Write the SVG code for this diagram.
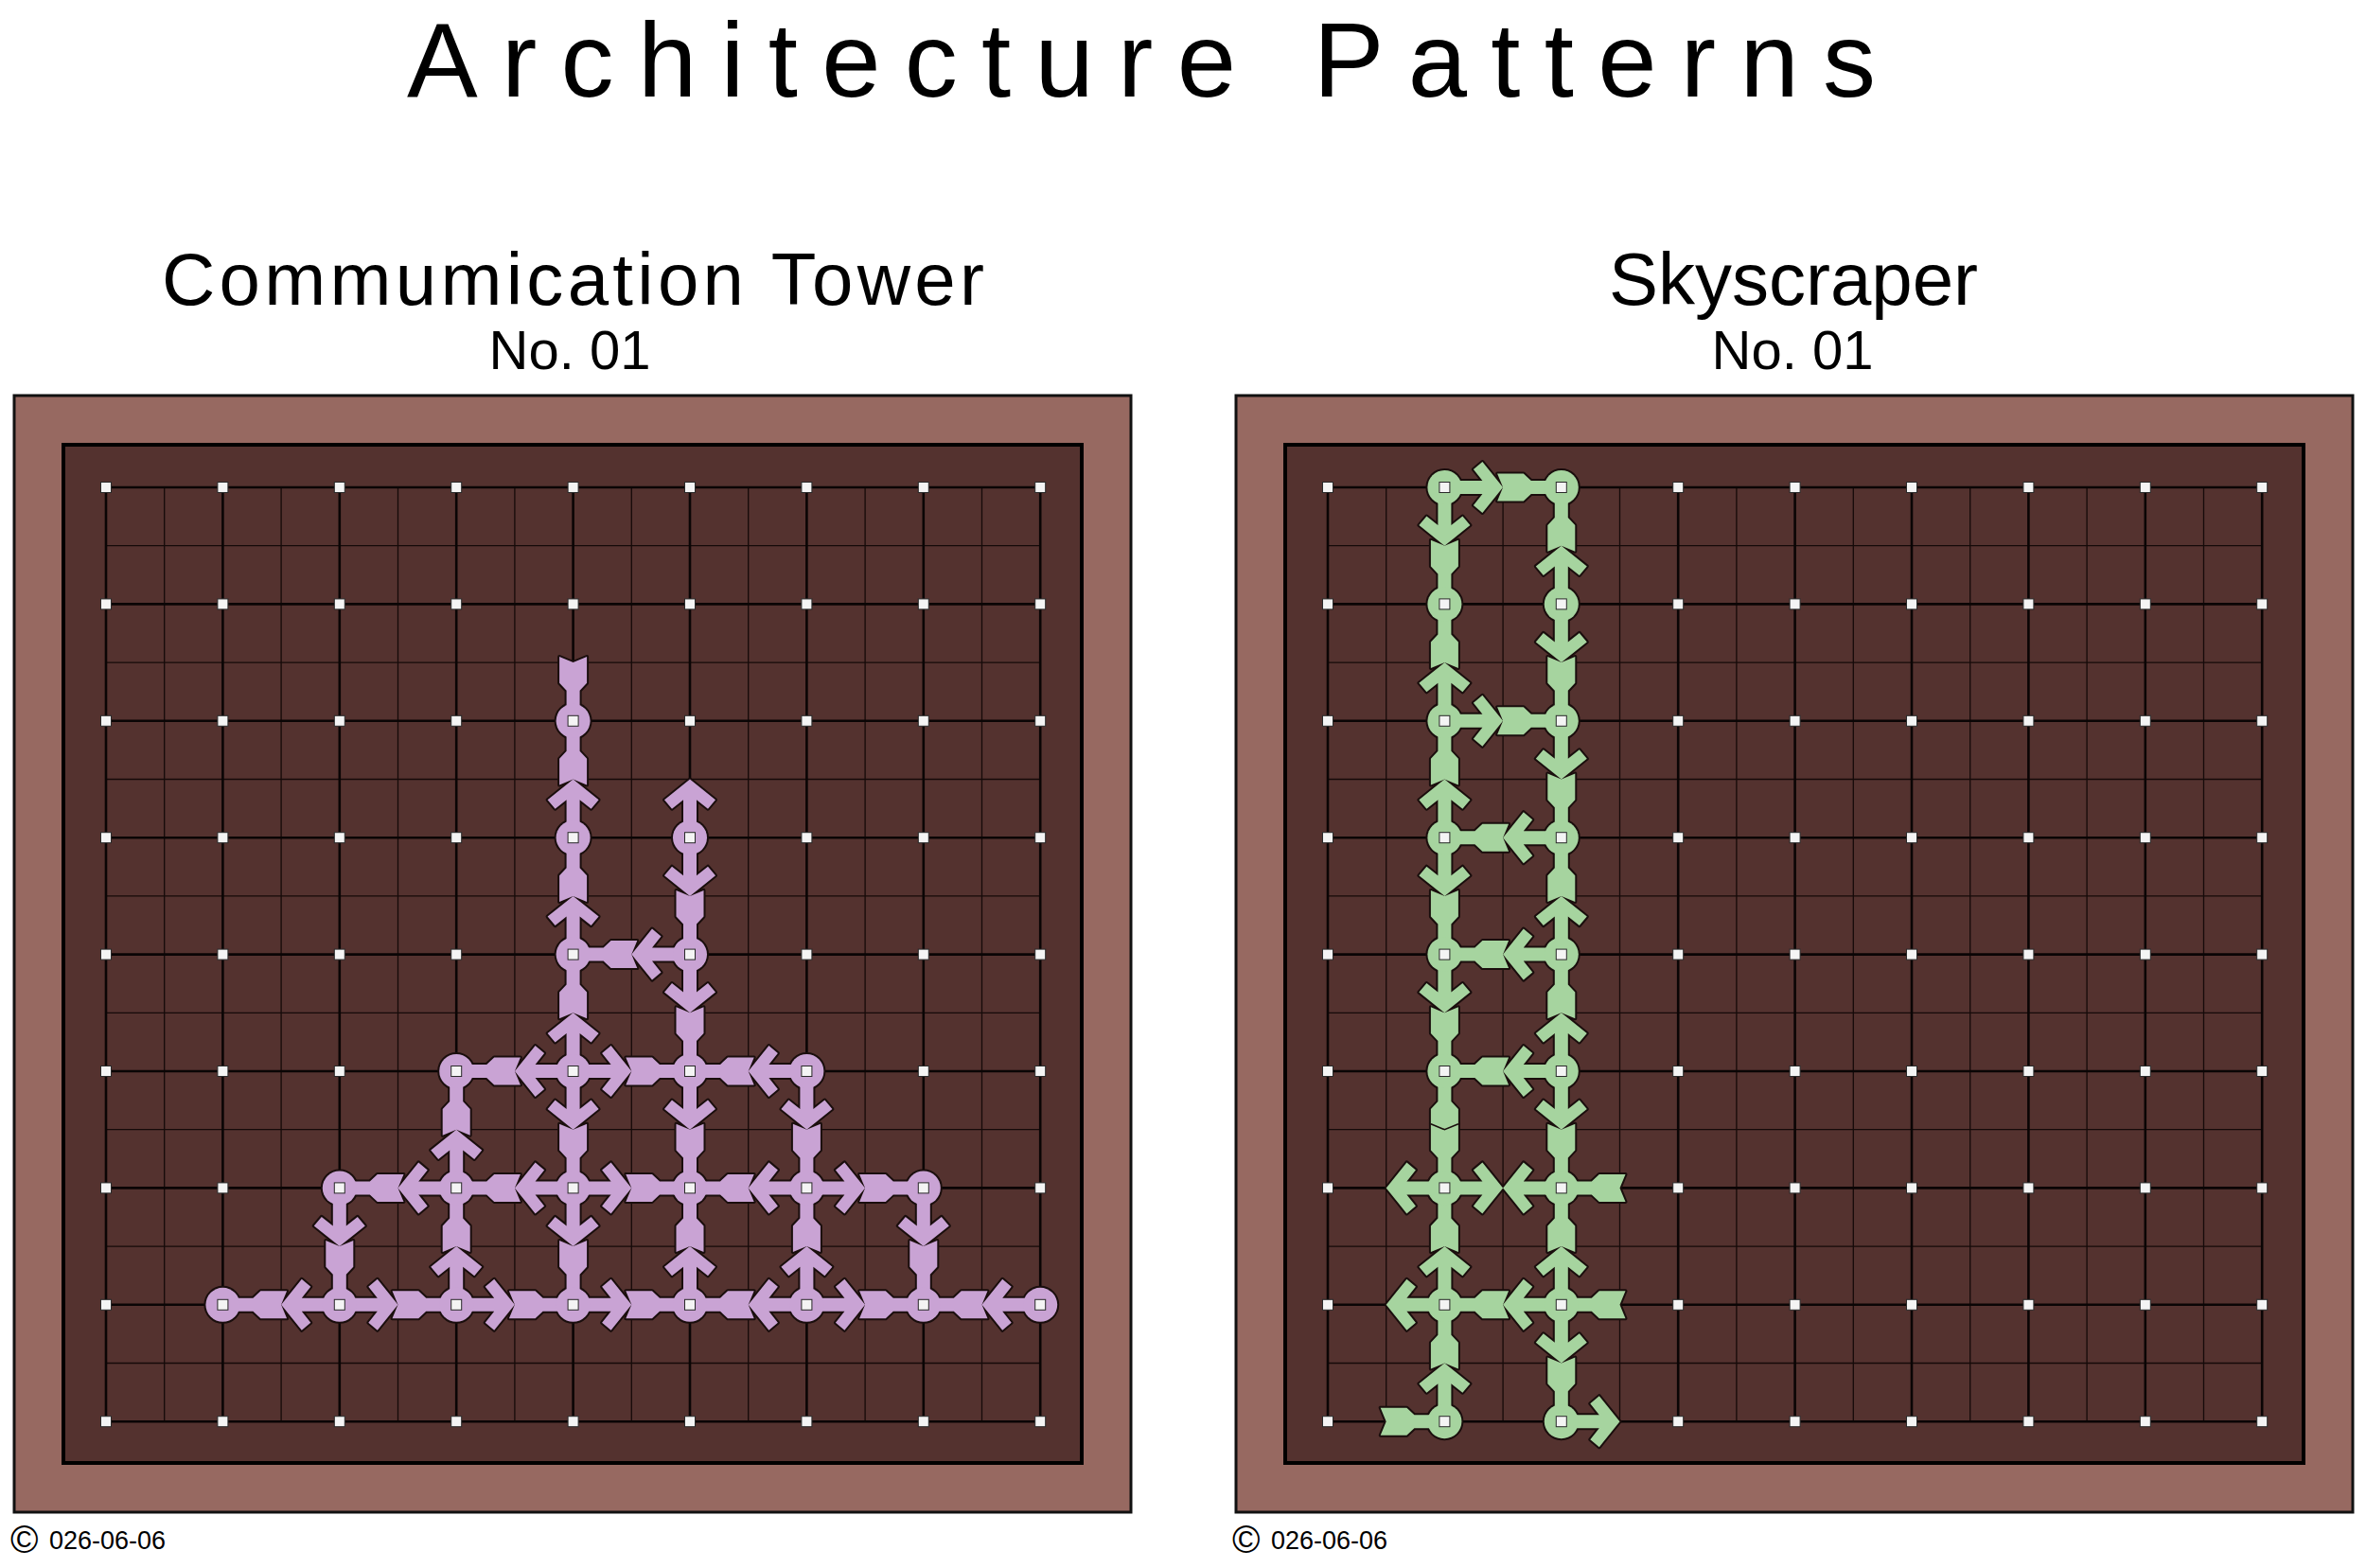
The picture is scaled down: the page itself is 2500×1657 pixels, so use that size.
<svg xmlns="http://www.w3.org/2000/svg" width="2500" height="1657" viewBox="0 0 2500 1657">
<style>
text{font-family:"Liberation Sans",Arial,sans-serif;fill:#000}
.frame{fill:#976961;stroke:#111;stroke-width:3}
.board{fill:#54322f;stroke:#000;stroke-width:4}
.major{stroke:#0a0505;stroke-width:2.6;fill:none}
.minor{stroke:#150a09;stroke-width:1.3;fill:none}
.dot{fill:#f4f4f4;stroke:#2a2a2a;stroke-width:1}
.tw{fill:#c9a3d4}
.sk{fill:#a6d49f}
.ol{stroke:#1a0e0d;stroke-width:4;stroke-linejoin:round}
.jn{fill:none;stroke:#1a0e0d;stroke-width:1.6}
</style>
<defs>
<path id="hd" d="M61.7,0 L40,-27 L30.5,-19 L40,-7 L0,-7 L0,7 L40,7 L30.5,19 L40,27 Z"/>
<path id="skt" d="M0,-7 L32,-7 L40,-14.5 L67.7,-14.5 L61.7,0 L67.7,14.5 L40,14.5 L32,7 L0,7 Z"/>
<path id="plg" d="M0,-7 L32,-7 L40,-14.5 L55.7,-14.5 L61.7,0 L55.7,14.5 L40,14.5 L32,7 L0,7 Z"/>
<g id="gridlines">
<path class="minor" d="M61.7,0V987.2M185.1,0V987.2M308.5,0V987.2M431.9,0V987.2M555.3,0V987.2M678.7,0V987.2M802.1,0V987.2M925.5,0V987.2M0,61.7H987.2M0,185.1H987.2M0,308.5H987.2M0,431.9H987.2M0,555.3H987.2M0,678.7H987.2M0,802.1H987.2M0,925.5H987.2"/>
<path class="major" d="M0,0V987.2M123.4,0V987.2M246.8,0V987.2M370.2,0V987.2M493.6,0V987.2M617,0V987.2M740.4,0V987.2M863.8,0V987.2M987.2,0V987.2M0,0H987.2M0,123.4H987.2M0,246.8H987.2M0,370.2H987.2M0,493.6H987.2M0,617H987.2M0,740.4H987.2M0,863.8H987.2M0,987.2H987.2"/>
</g>
<rect id="dot" class="dot" x="-5.5" y="-5.5" width="11" height="11"/>
<g id="dotrow">
<use href="#dot" x="0"/><use href="#dot" x="123.4"/><use href="#dot" x="246.8"/><use href="#dot" x="370.2"/><use href="#dot" x="493.6"/><use href="#dot" x="617"/><use href="#dot" x="740.4"/><use href="#dot" x="863.8"/><use href="#dot" x="987.2"/>
</g>
<g id="dots">
<use href="#dotrow" y="0"/><use href="#dotrow" y="123.4"/><use href="#dotrow" y="246.8"/><use href="#dotrow" y="370.2"/><use href="#dotrow" y="493.6"/><use href="#dotrow" y="617"/><use href="#dotrow" y="740.4"/><use href="#dotrow" y="863.8"/><use href="#dotrow" y="987.2"/>
</g>
</defs>
<rect width="2500" height="1657" fill="#fff"/>

<text x="430" y="102" font-size="112" textLength="1552" lengthAdjust="spacing">Architecture Patterns</text>

<g id="tower-title">
<text x="171" y="322" font-size="78" textLength="869" lengthAdjust="spacing">Commumication Tower</text>
<text x="602" y="390" font-size="58" text-anchor="middle">No. 01</text>
</g>
<g id="sky-title">
<text x="1895" y="322" font-size="78" text-anchor="middle">Skyscraper</text>
<text x="1894" y="390" font-size="58" text-anchor="middle">No. 01</text>
</g>

<g id="tower-panel" transform="translate(112,515)">
<rect class="frame" x="-97" y="-97" width="1180" height="1180"/>
<rect class="board" x="-45" y="-45" width="1076" height="1076"/>
<use href="#gridlines"/>
<g id="tower-pieces" class="tw">
<g id="tower-outline"><use href="#tower-connectors" class="ol"/><use href="#tower-nodes" class="ol"/></g>
<g id="tower-connectors">
<g id="t-e-43-42"><use href="#hd" transform="translate(493.6,370.2) rotate(-90)"/><use href="#skt" transform="translate(493.6,246.8) rotate(90)"/></g>
<g id="t-e-44-43"><use href="#hd" transform="translate(493.6,493.6) rotate(-90)"/><use href="#skt" transform="translate(493.6,370.2) rotate(90)"/></g>
<g id="t-e-45-44"><use href="#hd" transform="translate(493.6,617) rotate(-90)"/><use href="#skt" transform="translate(493.6,493.6) rotate(90)"/></g>
<g id="t-e-54-44"><use href="#hd" transform="translate(617,493.6) rotate(180)"/><use href="#skt" transform="translate(493.6,493.6)"/></g>
<g id="t-e-53-54"><use href="#hd" transform="translate(617,370.2) rotate(90)"/><use href="#skt" transform="translate(617,493.6) rotate(-90)"/></g>
<g id="t-e-54-55"><use href="#hd" transform="translate(617,493.6) rotate(90)"/><use href="#skt" transform="translate(617,617) rotate(-90)"/></g>
<g id="t-e-45-35"><use href="#hd" transform="translate(493.6,617) rotate(180)"/><use href="#skt" transform="translate(370.2,617)"/></g>
<g id="t-e-36-35"><use href="#hd" transform="translate(370.2,740.4) rotate(-90)"/><use href="#skt" transform="translate(370.2,617) rotate(90)"/></g>
<g id="t-e-45-55"><use href="#hd" transform="translate(493.6,617)"/><use href="#skt" transform="translate(617,617) rotate(180)"/></g>
<g id="t-e-65-55"><use href="#hd" transform="translate(740.4,617) rotate(180)"/><use href="#skt" transform="translate(617,617)"/></g>
<g id="t-e-45-46"><use href="#hd" transform="translate(493.6,617) rotate(90)"/><use href="#skt" transform="translate(493.6,740.4) rotate(-90)"/></g>
<g id="t-e-55-56"><use href="#hd" transform="translate(617,617) rotate(90)"/><use href="#skt" transform="translate(617,740.4) rotate(-90)"/></g>
<g id="t-e-65-66"><use href="#hd" transform="translate(740.4,617) rotate(90)"/><use href="#skt" transform="translate(740.4,740.4) rotate(-90)"/></g>
<g id="t-e-36-26"><use href="#hd" transform="translate(370.2,740.4) rotate(180)"/><use href="#skt" transform="translate(246.8,740.4)"/></g>
<g id="t-e-46-36"><use href="#hd" transform="translate(493.6,740.4) rotate(180)"/><use href="#skt" transform="translate(370.2,740.4)"/></g>
<g id="t-e-46-56"><use href="#hd" transform="translate(493.6,740.4)"/><use href="#skt" transform="translate(617,740.4) rotate(180)"/></g>
<g id="t-e-66-56"><use href="#hd" transform="translate(740.4,740.4) rotate(180)"/><use href="#skt" transform="translate(617,740.4)"/></g>
<g id="t-e-66-76"><use href="#hd" transform="translate(740.4,740.4)"/><use href="#skt" transform="translate(863.8,740.4) rotate(180)"/></g>
<g id="t-e-26-27"><use href="#hd" transform="translate(246.8,740.4) rotate(90)"/><use href="#skt" transform="translate(246.8,863.8) rotate(-90)"/></g>
<g id="t-e-37-36"><use href="#hd" transform="translate(370.2,863.8) rotate(-90)"/><use href="#skt" transform="translate(370.2,740.4) rotate(90)"/></g>
<g id="t-e-46-47"><use href="#hd" transform="translate(493.6,740.4) rotate(90)"/><use href="#skt" transform="translate(493.6,863.8) rotate(-90)"/></g>
<g id="t-e-57-56"><use href="#hd" transform="translate(617,863.8) rotate(-90)"/><use href="#skt" transform="translate(617,740.4) rotate(90)"/></g>
<g id="t-e-67-66"><use href="#hd" transform="translate(740.4,863.8) rotate(-90)"/><use href="#skt" transform="translate(740.4,740.4) rotate(90)"/></g>
<g id="t-e-76-77"><use href="#hd" transform="translate(863.8,740.4) rotate(90)"/><use href="#skt" transform="translate(863.8,863.8) rotate(-90)"/></g>
<g id="t-e-27-17"><use href="#hd" transform="translate(246.8,863.8) rotate(180)"/><use href="#skt" transform="translate(123.4,863.8)"/></g>
<g id="t-e-27-37"><use href="#hd" transform="translate(246.8,863.8)"/><use href="#skt" transform="translate(370.2,863.8) rotate(180)"/></g>
<g id="t-e-37-47"><use href="#hd" transform="translate(370.2,863.8)"/><use href="#skt" transform="translate(493.6,863.8) rotate(180)"/></g>
<g id="t-e-47-57"><use href="#hd" transform="translate(493.6,863.8)"/><use href="#skt" transform="translate(617,863.8) rotate(180)"/></g>
<g id="t-e-67-57"><use href="#hd" transform="translate(740.4,863.8) rotate(180)"/><use href="#skt" transform="translate(617,863.8)"/></g>
<g id="t-e-67-77"><use href="#hd" transform="translate(740.4,863.8)"/><use href="#skt" transform="translate(863.8,863.8) rotate(180)"/></g>
<g id="t-e-87-77"><use href="#hd" transform="translate(987.2,863.8) rotate(180)"/><use href="#skt" transform="translate(863.8,863.8)"/></g>
<g id="t-open-42"><use href="#skt" transform="translate(493.6,246.8) rotate(-90)"/></g>
<g id="t-open-53"><use href="#hd" transform="translate(617,370.2) rotate(-90)"/></g>
</g>
<g id="tower-nodes">
<g id="t-n-4-2"><circle cx="493.6" cy="246.8" r="18"/></g>
<g id="t-n-4-3"><circle cx="493.6" cy="370.2" r="18"/></g>
<g id="t-n-5-3"><circle cx="617" cy="370.2" r="18"/></g>
<g id="t-n-4-4"><circle cx="493.6" cy="493.6" r="18"/></g>
<g id="t-n-5-4"><circle cx="617" cy="493.6" r="18"/></g>
<g id="t-n-3-5"><circle cx="370.2" cy="617" r="18"/></g>
<g id="t-n-4-5"><circle cx="493.6" cy="617" r="18"/></g>
<g id="t-n-5-5"><circle cx="617" cy="617" r="18"/></g>
<g id="t-n-6-5"><circle cx="740.4" cy="617" r="18"/></g>
<g id="t-n-2-6"><circle cx="246.8" cy="740.4" r="18"/></g>
<g id="t-n-3-6"><circle cx="370.2" cy="740.4" r="18"/></g>
<g id="t-n-4-6"><circle cx="493.6" cy="740.4" r="18"/></g>
<g id="t-n-5-6"><circle cx="617" cy="740.4" r="18"/></g>
<g id="t-n-6-6"><circle cx="740.4" cy="740.4" r="18"/></g>
<g id="t-n-7-6"><circle cx="863.8" cy="740.4" r="18"/></g>
<g id="t-n-1-7"><circle cx="123.4" cy="863.8" r="18"/></g>
<g id="t-n-2-7"><circle cx="246.8" cy="863.8" r="18"/></g>
<g id="t-n-3-7"><circle cx="370.2" cy="863.8" r="18"/></g>
<g id="t-n-4-7"><circle cx="493.6" cy="863.8" r="18"/></g>
<g id="t-n-5-7"><circle cx="617" cy="863.8" r="18"/></g>
<g id="t-n-6-7"><circle cx="740.4" cy="863.8" r="18"/></g>
<g id="t-n-7-7"><circle cx="863.8" cy="863.8" r="18"/></g>
<g id="t-n-8-7"><circle cx="987.2" cy="863.8" r="18"/></g>
</g>
</g>
<use href="#dots"/>
</g>

<g id="sky-panel" transform="translate(1403,515)">
<rect class="frame" x="-97" y="-97" width="1180" height="1180"/>
<rect class="board" x="-45" y="-45" width="1076" height="1076"/>
<use href="#gridlines"/>
<g id="sky-pieces" class="sk">
<g id="sky-outline"><use href="#sky-connectors" class="ol"/><use href="#sky-nodes" class="ol"/></g>
<g id="sky-connectors">
<g id="s-e-10-20"><use href="#hd" transform="translate(123.4,0)"/><use href="#skt" transform="translate(246.8,0) rotate(180)"/></g>
<g id="s-e-10-11"><use href="#hd" transform="translate(123.4,0) rotate(90)"/><use href="#skt" transform="translate(123.4,123.4) rotate(-90)"/></g>
<g id="s-e-21-20"><use href="#hd" transform="translate(246.8,123.4) rotate(-90)"/><use href="#skt" transform="translate(246.8,0) rotate(90)"/></g>
<g id="s-e-12-11"><use href="#hd" transform="translate(123.4,246.8) rotate(-90)"/><use href="#skt" transform="translate(123.4,123.4) rotate(90)"/></g>
<g id="s-e-21-22"><use href="#hd" transform="translate(246.8,123.4) rotate(90)"/><use href="#skt" transform="translate(246.8,246.8) rotate(-90)"/></g>
<g id="s-e-12-22"><use href="#hd" transform="translate(123.4,246.8)"/><use href="#skt" transform="translate(246.8,246.8) rotate(180)"/></g>
<g id="s-e-13-12"><use href="#hd" transform="translate(123.4,370.2) rotate(-90)"/><use href="#skt" transform="translate(123.4,246.8) rotate(90)"/></g>
<g id="s-e-22-23"><use href="#hd" transform="translate(246.8,246.8) rotate(90)"/><use href="#skt" transform="translate(246.8,370.2) rotate(-90)"/></g>
<g id="s-e-23-13"><use href="#hd" transform="translate(246.8,370.2) rotate(180)"/><use href="#skt" transform="translate(123.4,370.2)"/></g>
<g id="s-e-13-14"><use href="#hd" transform="translate(123.4,370.2) rotate(90)"/><use href="#skt" transform="translate(123.4,493.6) rotate(-90)"/></g>
<g id="s-e-24-23"><use href="#hd" transform="translate(246.8,493.6) rotate(-90)"/><use href="#skt" transform="translate(246.8,370.2) rotate(90)"/></g>
<g id="s-e-24-14"><use href="#hd" transform="translate(246.8,493.6) rotate(180)"/><use href="#skt" transform="translate(123.4,493.6)"/></g>
<g id="s-e-14-15"><use href="#hd" transform="translate(123.4,493.6) rotate(90)"/><use href="#skt" transform="translate(123.4,617) rotate(-90)"/></g>
<g id="s-e-25-24"><use href="#hd" transform="translate(246.8,617) rotate(-90)"/><use href="#skt" transform="translate(246.8,493.6) rotate(90)"/></g>
<g id="s-e-25-15"><use href="#hd" transform="translate(246.8,617) rotate(180)"/><use href="#skt" transform="translate(123.4,617)"/></g>
<g id="s-e-15-16"><use href="#plg" transform="translate(123.4,617) rotate(90)"/><use href="#skt" transform="translate(123.4,740.4) rotate(-90)"/><path class="jn" d="M108.9,672.7 L123.4,678.7 L137.9,672.7"/></g>
<g id="s-e-25-26"><use href="#hd" transform="translate(246.8,617) rotate(90)"/><use href="#skt" transform="translate(246.8,740.4) rotate(-90)"/></g>
<g id="s-e-16-26"><use href="#hd" transform="translate(123.4,740.4)"/><use href="#hd" transform="translate(246.8,740.4) rotate(180)"/></g>
<g id="s-e-17-16"><use href="#hd" transform="translate(123.4,863.8) rotate(-90)"/><use href="#skt" transform="translate(123.4,740.4) rotate(90)"/></g>
<g id="s-e-27-26"><use href="#hd" transform="translate(246.8,863.8) rotate(-90)"/><use href="#skt" transform="translate(246.8,740.4) rotate(90)"/></g>
<g id="s-e-27-17"><use href="#hd" transform="translate(246.8,863.8) rotate(180)"/><use href="#skt" transform="translate(123.4,863.8)"/></g>
<g id="s-e-18-17"><use href="#hd" transform="translate(123.4,987.2) rotate(-90)"/><use href="#skt" transform="translate(123.4,863.8) rotate(90)"/></g>
<g id="s-e-27-28"><use href="#hd" transform="translate(246.8,863.8) rotate(90)"/><use href="#skt" transform="translate(246.8,987.2) rotate(-90)"/></g>
<g id="s-open-16"><use href="#hd" transform="translate(123.4,740.4) rotate(180)"/></g>
<g id="s-open-26"><use href="#skt" transform="translate(246.8,740.4)"/></g>
<g id="s-open-17"><use href="#hd" transform="translate(123.4,863.8) rotate(180)"/></g>
<g id="s-open-27"><use href="#skt" transform="translate(246.8,863.8)"/></g>
<g id="s-open-18"><use href="#skt" transform="translate(123.4,987.2) rotate(180)"/></g>
<g id="s-open-28"><use href="#hd" transform="translate(246.8,987.2)"/></g>
</g>
<g id="sky-nodes">
<g id="s-n-1-0"><circle cx="123.4" cy="0" r="18"/></g>
<g id="s-n-2-0"><circle cx="246.8" cy="0" r="18"/></g>
<g id="s-n-1-1"><circle cx="123.4" cy="123.4" r="18"/></g>
<g id="s-n-2-1"><circle cx="246.8" cy="123.4" r="18"/></g>
<g id="s-n-1-2"><circle cx="123.4" cy="246.8" r="18"/></g>
<g id="s-n-2-2"><circle cx="246.8" cy="246.8" r="18"/></g>
<g id="s-n-1-3"><circle cx="123.4" cy="370.2" r="18"/></g>
<g id="s-n-2-3"><circle cx="246.8" cy="370.2" r="18"/></g>
<g id="s-n-1-4"><circle cx="123.4" cy="493.6" r="18"/></g>
<g id="s-n-2-4"><circle cx="246.8" cy="493.6" r="18"/></g>
<g id="s-n-1-5"><circle cx="123.4" cy="617" r="18"/></g>
<g id="s-n-2-5"><circle cx="246.8" cy="617" r="18"/></g>
<g id="s-n-1-6"><circle cx="123.4" cy="740.4" r="18"/></g>
<g id="s-n-2-6"><circle cx="246.8" cy="740.4" r="18"/></g>
<g id="s-n-1-7"><circle cx="123.4" cy="863.8" r="18"/></g>
<g id="s-n-2-7"><circle cx="246.8" cy="863.8" r="18"/></g>
<g id="s-n-1-8"><circle cx="123.4" cy="987.2" r="18"/></g>
<g id="s-n-2-8"><circle cx="246.8" cy="987.2" r="18"/></g>
</g>
</g>
<use href="#dots"/>
</g>

<g id="footer-left">
<text x="11" y="1641" font-size="40">© <tspan x="52" y="1637" font-size="27">026-06-06</tspan></text>
</g>
<g id="footer-right">
<text x="1302" y="1641" font-size="40">© <tspan x="1343" y="1637" font-size="27">026-06-06</tspan></text>
</g>
</svg>
